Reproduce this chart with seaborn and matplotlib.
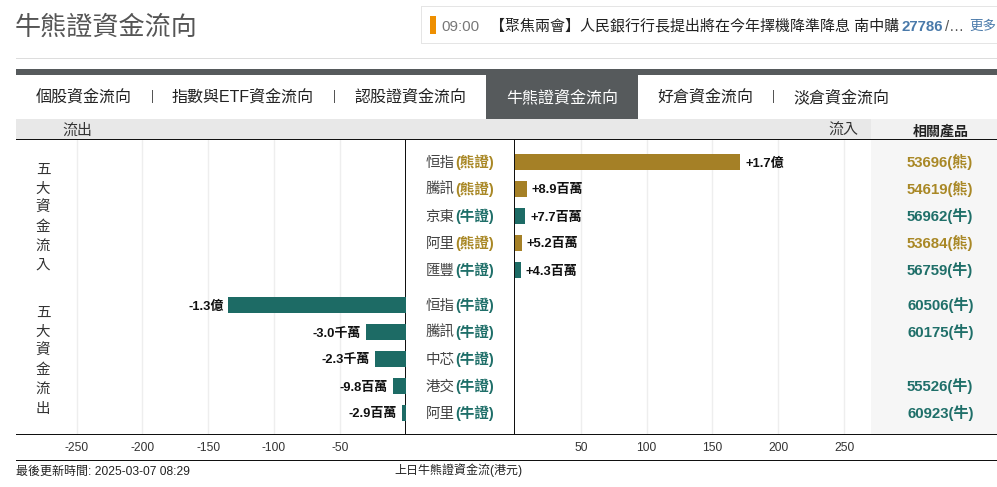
import matplotlib
matplotlib.use("Agg")
import matplotlib.pyplot as plt
import pandas as pd
import seaborn as sns
from matplotlib.patches import Rectangle
from matplotlib.transforms import Affine2D, blended_transform_factory

sns.set_theme(style="white")
plt.rcParams["font.family"] = ["Liberation Sans", "Noto Sans CJK TC", "DejaVu Sans"]
plt.rcParams["axes.unicode_minus"] = False

names = ["恒指", "騰訊", "京東", "阿里", "匯豐", "恒指", "騰訊", "中芯", "港交", "阿里"]
kinds = ["熊證", "熊證", "牛證", "熊證", "牛證", "牛證", "牛證", "牛證", "牛證", "牛證"]
flows = [171, 8.9, 7.7, 5.2, 4.3, -134.5, -30, -23, -9.8, -2.9]
value_labels = ["+1.7億", "+8.9百萬", "+7.7百萬", "+5.2百萬", "+4.3百萬",
                "-1.3億", "-3.0千萬", "-2.3千萬", "-9.8百萬", "-2.9百萬"]
products = ["53696(熊)", "54619(熊)", "56962(牛)", "53684(熊)", "56759(牛)",
            "60506(牛)", "60175(牛)", "", "55526(牛)", "60923(牛)"]
left_ticks = [-250, -200, -150, -100, -50]
right_ticks = [50, 100, 150, 200, 250]
tabs = ["個股資金流向", "指數與ETF資金流向", "認股證資金流向", "牛熊證資金流向", "好倉資金流向", "淡倉資金流向"]
side_in = list("五大資金流入")
side_out = list("五大資金流出")

TEAL, GOLD = "#1d6b65", "#a58026"
palette = {"牛證": TEAL, "熊證": GOLD}
text_col = {"牛證": "#1f6f69", "熊證": "#a98826"}
ROW_H = 27.0
GROUP_GAP = 8 / ROW_H
SCALE = 1.316

df = pd.DataFrame({
    "row": [i + (GROUP_GAP if i >= 5 else 0) for i in range(len(flows))],
    "flow": flows, "kind": kinds, "label": value_labels,
})

fig = plt.figure(figsize=(9.97, 4.87), dpi=100, facecolor="white")
PX = Affine2D().scale(1, -1).translate(0, 487)


def px_axes(x0, x1, y0, y1):
    ax = fig.add_axes([x0 / 997, 1 - y1 / 487, (x1 - x0) / 997, (y1 - y0) / 487])
    ax.set_zorder(5)
    ax.patch.set_visible(False)
    return ax


def rect(x, y, w, h, color, **kw):
    fig.add_artist(Rectangle((x, y), w, h, transform=PX, facecolor=color, edgecolor="none", zorder=1, **kw))


def label(x, y, s, size_px, color="#222222", ha="left", weight="normal"):
    # y is the visual centre of the glyphs; text is placed on its baseline
    return fig.text(x, y + 0.37 * size_px, s, transform=PX, fontsize=size_px * 0.72, color=color,
                    ha=ha, va="baseline", weight=weight, zorder=10)


# page furniture
label(15, 25, "牛熊證資金流向", 26.1, "#555555")
rect(16, 58, 981, 1, "#dddddd")
rect(421, 6, 576, 1, "#e5e5e5")
rect(421, 43, 576, 1, "#e5e5e5")
rect(421, 6, 1, 38, "#e5e5e5")
rect(430, 16, 6, 18, "#ee8f00")
label(441, 25, "09:00", 15, "#777777")
label(490, 25, "【聚焦兩會】人民銀行行長提出將在今年擇機降準降息 南中購", 15, "#222222")
label(902, 25, "27786", 15, "#4a7aaa", weight="bold")
label(945, 25, "/…", 15, "#555555")
label(969, 25, "更多", 13.5, "#4a7aaa")

rect(16, 69, 981, 6, "#565a5c")
rect(486, 75, 152, 44, "#565a5c")
rect(16, 119, 855, 20, "#e8e8e8")
rect(871, 119, 126, 20, "#f1f1f1")
rect(871, 139, 126, 295, "#f6f6f6")
rect(16, 139, 981, 1.3, "#111111")
rect(16, 434, 981, 1.3, "#111111")
rect(16, 460, 981, 1.3, "#111111")

tab_x = [35.5, 171.5, 354, 506, 657.5, 793.5]
for i, (t, x) in enumerate(zip(tabs, tab_x)):
    label(x, 96, t, 16, "white" if i == 3 else "#222222")
for x in [152, 334, 773]:
    rect(x, 90, 1, 13, "#555555")

label(62, 129.4, "流出", 15, "#333333")
label(828, 129.4, "流入", 15, "#333333")
label(913, 130, "相關產品", 14, "#222222", weight="bold")

# bars
ax_l = px_axes(16, 405.5, 140, 434)
ax_r = px_axes(515, 997, 140, 434)
ylim = ((434 - 162) / ROW_H, (140 - 162) / ROW_H)
for ax, sub, xlim, ticks in [
    (ax_l, df[df.flow < 0], (-(405.5 - 16) / SCALE, 0), left_ticks),
    (ax_r, df[df.flow > 0], (0, (997 - 515) / SCALE), right_ticks),
]:
    sns.barplot(data=sub, x="flow", y="row", hue="kind", palette=palette, orient="y",
                native_scale=True, dodge=False, width=16 / ROW_H, saturation=1,
                linewidth=0, legend=False, ax=ax)
    ax.set_xlim(*xlim)
    ax.set_ylim(*ylim)
    ax.set_xticks(ticks)
    ax.set_yticks([])
    ax.set_xlabel("")
    ax.set_ylabel("")
    ax.set_axisbelow(True)
    ax.grid(axis="x", color="#eeeeee", lw=1)
    ax.grid(axis="y", visible=False)
    ax.tick_params(axis="x", length=0, pad=6, labelsize=12 * 0.72, labelcolor="#333333")
    for s in ax.spines.values():
        s.set_visible(False)
    for _, r in sub.iterrows():
        pos = r.flow > 0
        ax.annotate(r.label, (r.flow, r.row), xytext=(3.6 if pos else -3.6, 0), textcoords="offset points",
                    ha="left" if pos else "right", va="center_baseline", fontsize=13 * 0.72,
                    color="#111111", weight="bold", zorder=10)

for x in (405.5, 514.5):
    rect(x - 0.6, 139, 1.2, 295, "#111111")

row_tf = blended_transform_factory(PX, ax_r.transData) + Affine2D().translate(0, -5)
for name, kind, row, prod in zip(names, kinds, df.row, products):
    fig.text(425.5, row, name, transform=row_tf, fontsize=14.5 * 0.72, color="#444444", va="baseline", zorder=10)
    fig.text(455, row, f"({kind})", transform=row_tf, fontsize=14.5 * 0.72, color=text_col[kind],
             va="baseline", weight="bold", zorder=10)
    if prod:
        c = text_col["熊證"] if "熊" in prod else text_col["牛證"]
        fig.text(907, row, prod, transform=row_tf, fontsize=15 * 0.72, color=c, va="baseline",
                 weight="bold", zorder=10)

for chars, y0 in [(side_in, 168.5), (side_out, 311.5)]:
    for i, ch in enumerate(chars):
        label(43, y0 + i * 19.2, ch, 14.5, "#333333", ha="center")

label(16, 470, "最後更新時間: 2025-03-07 08:29", 12, "#222222")
label(394.5, 470, "上日牛熊證資金流(港元)", 12, "#222222")

fig.savefig("out.png", dpi=100)
